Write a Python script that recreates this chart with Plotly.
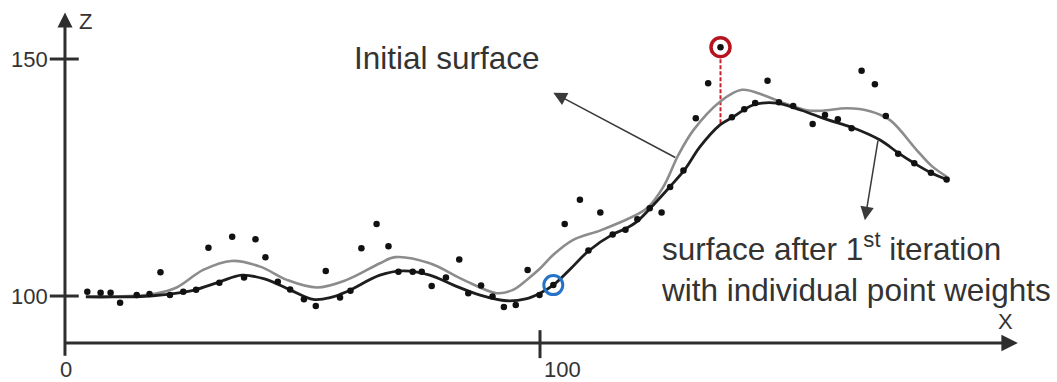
import numpy as np
import plotly.graph_objects as go

# Measured terrain points (X, Z)
point_x = [4.7, 7.5, 9.6, 11.6, 15.1, 17.8, 20.1, 22.1, 24.9, 27.6, 30.2, 32.5, 35.2, 37.7,
           40.1, 42.2, 44.8, 47.4, 50.3, 52.8, 54.9, 57.9, 60.1, 62.4, 65.6, 68.1, 70.2,
           73.2, 75.1, 77.2, 80.2, 83.0, 84.9, 87.6, 90.0, 92.4, 94.9, 97.4, 99.9, 102.8,
           105.2, 108.4, 110.2, 112.7, 115.3, 118.0, 120.5, 123.1, 125.6, 127.4, 130.2,
           132.8, 135.4, 138.0, 140.4, 143.0, 145.3, 147.9, 150.3, 153.3, 157.4, 160.0,
           162.7, 165.6, 167.7, 170.5, 172.8, 175.4, 178.8, 182.3, 185.6]
point_z = [100.9, 100.7, 100.7, 98.6, 100.2, 100.4, 105.0, 100.2, 100.9, 101.3, 110.2, 102.8,
           112.5, 103.9, 112.0, 108.2, 103.0, 101.4, 99.3, 97.9, 105.3, 99.7, 101.1, 110.1,
           115.2, 110.5, 105.1, 105.1, 105.1, 102.1, 103.9, 107.7, 100.6, 102.2, 99.9, 97.7,
           98.1, 105.5, 100.2, 102.3, 115.2, 120.3, 109.6, 117.6, 113.0, 114.0, 116.2, 118.5,
           117.6, 123.0, 126.5, 137.5, 144.9, 152.5, 137.7, 139.4, 140.7, 145.4, 140.9, 140.1,
           136.3, 138.2, 137.3, 135.4, 147.5, 144.7, 138.0, 130.0, 128.0, 126.0, 124.6]

# Initial surface profile
initial_x = [4.4, 10, 16, 18.6, 23.5, 29.1, 35.1, 41.1, 46.7, 53, 59.3, 66.3, 69.5, 76.8,
             83.9, 90.9, 94.3, 97.2, 100, 102.7, 106.9, 112.6, 116.8, 122.5, 126.0, 129.1,
             132.3, 137.9, 142.5, 147.0, 150.5, 156.1, 159.5, 164.6, 169.5, 173.7, 179.3,
             182.5, 185.6]
initial_z = [99.9, 99.9, 100.1, 100.4, 101.8, 105.5, 107.4, 106.2, 103.4, 101.8, 103.4, 106.9,
             108.2, 106.9, 103.4, 100.6, 101.3, 103.4, 105.8, 108.6, 111.8, 113.8, 115.5,
             118.5, 123.1, 129.7, 135.0, 141.0, 143.5, 142.4, 141.0, 139.2, 139.1, 139.6,
             139.0, 137.1, 130.8, 127.4, 125.2]

# Surface after the first weighted iteration
iter_x = [4.4, 10, 16, 21, 27, 32.6, 37.2, 42, 47.4, 52.3, 56, 59.3, 66.3, 71.2, 76.8, 81.8,
          87.4, 93, 97, 100, 102.8, 106.5, 110.2, 115.3, 118.0, 120.4, 123.2, 127.4, 130.5,
          133.7, 137.9, 140.7, 144.9, 149.8, 155, 160.5, 165.6, 171.6, 175.4, 178.8, 182.3,
          185.6]
iter_z = [99.8, 99.8, 99.9, 100.3, 101.2, 103.0, 104.4, 103.6, 101.3, 99.3, 99.7, 100.9,
          104.4, 105.3, 104.4, 102.3, 100.2, 99.0, 99.4, 100.6, 102.3, 105.8, 109.5, 113.0,
          114.2, 115.7, 118.5, 123.1, 126.7, 131.5, 136.1, 137.8, 140.3, 140.7, 139.2, 137.2,
          135.6, 132.9, 130.2, 128.0, 126.0, 124.6]

# Highlighted points
outlier_x, outlier_z = 138.0, 152.5
ground_x, ground_z = 102.8, 102.3

x_ticks = [0, 100]
x_tick_labels = ["0", "100"]
z_ticks = [100, 150]
z_tick_labels = ["100", "150"]

# Axis extents
x_axis_end = 200.6
z_axis_base = 90.1
z_axis_end = 159.8

FONT = "Arial, Liberation Sans, sans-serif"
AXIS_COLOR = "#2e2e2e"
TEXT_COLOR = "#333333"

fig = go.Figure()

# residual of the outlier down to the iterated surface
outlier_foot = float(np.interp(outlier_x, iter_x, iter_z))
fig.add_trace(go.Scatter(x=[outlier_x, outlier_x], y=[outlier_z, outlier_foot], mode="lines",
                         line=dict(color="#c8202a", width=2, dash="4px,2px"),
                         hoverinfo="skip", showlegend=False))

fig.add_trace(go.Scatter(x=initial_x, y=initial_z, mode="lines",
                         line=dict(color="#8c8c8c", width=2.6, shape="spline", smoothing=1.0),
                         showlegend=False))
fig.add_trace(go.Scatter(x=iter_x, y=iter_z, mode="lines",
                         line=dict(color="#1e1e1e", width=2.8, shape="spline", smoothing=1.0),
                         showlegend=False))

# outlier ring
fig.add_trace(go.Scatter(x=[outlier_x], y=[outlier_z], mode="markers",
                         marker=dict(symbol="circle", size=19, color="white",
                                     line=dict(color="#b5141e", width=3.5)),
                         showlegend=False))
# ground point ring
fig.add_trace(go.Scatter(x=[ground_x], y=[ground_z], mode="markers",
                         marker=dict(symbol="circle-open", size=19, color="#2473c8",
                                     line=dict(color="#2473c8", width=3)),
                         showlegend=False))

fig.add_trace(go.Scatter(x=point_x, y=point_z, mode="markers",
                         marker=dict(size=6.5, color="#111111"), showlegend=False))

shapes = []
# tick marks
for zt in z_ticks:
    shapes.append(dict(type="line", xref="x", yref="y", x0=-3.2, x1=2.9, y0=zt, y1=zt,
                       line=dict(color=AXIS_COLOR, width=3)))
for xt in x_ticks[1:]:
    shapes.append(dict(type="line", xref="x", yref="y", x0=xt, x1=xt, y0=86.9, y1=92.8,
                       line=dict(color=AXIS_COLOR, width=3)))

annotations = []
# axes with arrow heads
annotations.append(dict(x=x_axis_end, y=z_axis_base, ax=-0.2, ay=z_axis_base,
                        xref="x", yref="y", axref="x", ayref="y", text="", showarrow=True,
                        arrowhead=2, arrowsize=1.1, arrowwidth=3, arrowcolor=AXIS_COLOR,
                        standoff=0))
annotations.append(dict(x=0, y=z_axis_end, ax=0, ay=87.1,
                        xref="x", yref="y", axref="x", ayref="y", text="", showarrow=True,
                        arrowhead=2, arrowsize=1.0, arrowwidth=3, arrowcolor=AXIS_COLOR,
                        standoff=0))

# tick labels
for zt, lab in zip(z_ticks, z_tick_labels):
    annotations.append(dict(x=-3.2, y=zt, xref="x", yref="y", text=lab, showarrow=False,
                            xanchor="right", yanchor="middle",
                            font=dict(family=FONT, size=22, color=TEXT_COLOR)))
annotations.append(dict(x=0.3, y=84.6, xref="x", yref="y", text=x_tick_labels[0],
                        showarrow=False, xanchor="center", yanchor="middle", borderpad=0,
                        font=dict(family=FONT, size=22, color=TEXT_COLOR)))
annotations.append(dict(x=104.8, y=84.6, xref="x", yref="y", text=x_tick_labels[1],
                        showarrow=False, xanchor="center", yanchor="middle", borderpad=0,
                        font=dict(family=FONT, size=22, color=TEXT_COLOR)))
annotations.append(dict(x=2.5, y=158.0, xref="x", yref="y", text="Z", showarrow=False,
                        xanchor="left", yanchor="middle",
                        font=dict(family=FONT, size=22, color=TEXT_COLOR)))
annotations.append(dict(x=197.9, y=94.6, xref="x", yref="y", text="X", showarrow=False,
                        xanchor="center", yanchor="middle",
                        font=dict(family=FONT, size=22, color=TEXT_COLOR)))

# callouts
init_tail_x = 128.8
annotations.append(dict(x=102.8, y=142.9, ax=init_tail_x,
                        ay=float(np.interp(init_tail_x, initial_x, initial_z)),
                        xref="x", yref="y", axref="x", ayref="y", text="", showarrow=True,
                        arrowhead=2, arrowsize=1.8, arrowwidth=1.5, arrowcolor="#3a3a3a",
                        standoff=0))
iter_tail_x = 171.2
annotations.append(dict(x=168.4, y=116.0, ax=iter_tail_x,
                        ay=float(np.interp(iter_tail_x, iter_x, iter_z)),
                        xref="x", yref="y", axref="x", ayref="y", text="", showarrow=True,
                        arrowhead=2, arrowsize=1.8, arrowwidth=1.5, arrowcolor="#3a3a3a",
                        standoff=0))
annotations.append(dict(x=80.5, y=150.3, xref="x", yref="y", text="Initial surface",
                        showarrow=False, xanchor="center", yanchor="middle",
                        font=dict(family=FONT, size=31.5, color=TEXT_COLOR)))
annotations.append(dict(x=125.1, y=106.1, xref="x", yref="y",
                        text="surface after 1<sup>st</sup> iteration<br>with individual point weights",
                        showarrow=False, xanchor="left", yanchor="middle", align="left",
                        font=dict(family=FONT, size=31.5, color=TEXT_COLOR)))

fig.update_layout(
    width=1057, height=382,
    margin=dict(l=0, r=0, t=0, b=0),
    paper_bgcolor="white", plot_bgcolor="white",
    xaxis=dict(range=[-13.68, 208.84], visible=False, fixedrange=True),
    yaxis=dict(range=[81.86, 162.45], visible=False, fixedrange=True),
    shapes=shapes, annotations=annotations,
    showlegend=False,
)

fig.write_html("out.html")
